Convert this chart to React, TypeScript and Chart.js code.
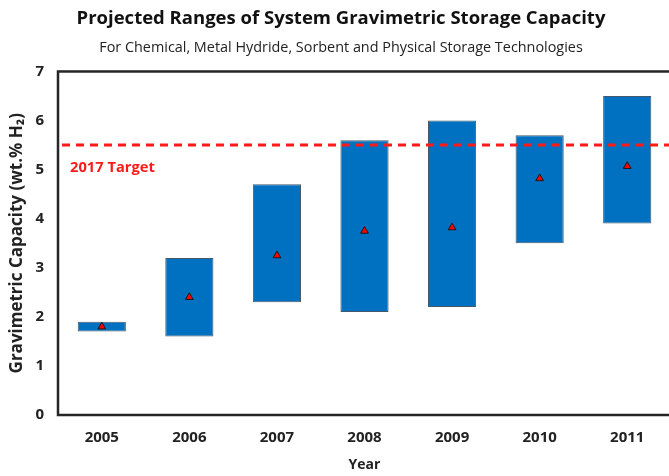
import React, { useEffect, useRef } from "react";
import { Chart, registerables } from "chart.js";

Chart.register(...registerables);

const years = ["2005", "2006", "2007", "2008", "2009", "2010", "2011"];
const rangeLow = [1.7, 1.6, 2.3, 2.1, 2.2, 3.5, 3.9];
const rangeHigh = [1.9, 3.2, 4.7, 5.6, 6.0, 5.7, 6.5];
const projectedMid = [1.8, 2.4, 3.25, 3.75, 3.82, 4.82, 5.07];
const target2017 = 5.5;
const targetLabel = "2017 Target";
const yMin = 0;
const yMax = 7;
const yStep = 1;

const titleText = "Projected Ranges of System Gravimetric Storage Capacity";
const subtitleText = "For Chemical, Metal Hydride, Sorbent and Physical Storage Technologies";
const yTitle = "Gravimetric Capacity (wt.% H\u2082)";
const xTitle = "Year";

const FONT = "'Open Sans', sans-serif";
const CW = 684;
const CH = 476;

const framePlugin = {
  id: "frameAndTarget",
  afterDatasetsDraw(chart: any) {
    const { ctx, chartArea, scales } = chart;
    const y = scales.y.getPixelForValue(target2017);
    ctx.save();
    ctx.strokeStyle = "#ff1a1a";
    ctx.lineWidth = 3;
    ctx.setLineDash([8, 6]);
    ctx.beginPath();
    ctx.moveTo(chartArea.left + 4, y);
    ctx.lineTo(chartArea.right, y);
    ctx.stroke();
    ctx.setLineDash([]);
    ctx.fillStyle = "#ff1a1a";
    ctx.font = `bold 14.7px ${FONT}`;
    ctx.textBaseline = "middle";
    ctx.textAlign = "left";
    ctx.fillText(targetLabel, chartArea.left + 12, y + 23);
    ctx.strokeStyle = "#262626";
    ctx.lineWidth = 2.5;
    ctx.strokeRect(chartArea.left, chartArea.top, chartArea.right - chartArea.left, chartArea.bottom - chartArea.top);
    ctx.restore();
  },
};

export default function App() {
  const ref = useRef<HTMLCanvasElement | null>(null);

  useEffect(() => {
    document.body.style.overflow = "hidden";
    const canvas = ref.current;
    if (!canvas) return;
    const chart = new Chart(canvas, {
      type: "bar",
      data: {
        labels: years,
        datasets: [
          {
            type: "line",
            label: "Projected",
            data: projectedMid,
            showLine: false,
            pointStyle: "triangle",
            pointRadius: 4.5,
            pointBackgroundColor: "#ff0000",
            pointBorderColor: "#1a1a1a",
            pointBorderWidth: 1,
            order: 0,
          } as any,
          {
            type: "bar",
            label: "Range",
            data: years.map((_, i) => [rangeLow[i], rangeHigh[i]]) as any,
            backgroundColor: "#0070c0",
            borderColor: "#465868",
            borderWidth: 1,
            borderSkipped: false,
            barPercentage: 0.55,
            categoryPercentage: 1,
            order: 1,
          } as any,
        ],
      },
      options: {
        responsive: false,
        animation: false,
        layout: { padding: { left: 11, right: 13, top: 0, bottom: 0 } },
        plugins: {
          legend: { display: false },
          tooltip: { enabled: false },
          title: {
            display: true,
            text: titleText,
            color: "#111",
            font: { family: FONT, size: 18.5, weight: "bold" },
            padding: { top: 8, bottom: 9 },
          },
          subtitle: {
            display: true,
            text: subtitleText,
            color: "#222",
            font: { family: FONT, size: 14.4 },
            padding: { top: 0, bottom: 15 },
          },
        },
        scales: {
          x: {
            grid: { display: false, drawTicks: false },
            border: { display: false },
            afterFit: (s: any) => {
              s.height = 61;
            },
            ticks: {
              color: "#222",
              font: { family: FONT, size: 15, weight: "bold" },
              padding: 14,
            },
            title: {
              display: true,
              text: xTitle,
              color: "#222",
              font: { family: FONT, size: 14, weight: "bold" },
              padding: { top: 4, bottom: 3 },
            },
          },
          y: {
            min: yMin,
            max: yMax,
            grid: { display: false, drawTicks: false },
            border: { display: false },
            afterFit: (s: any) => {
              s.width = 47;
            },
            ticks: {
              stepSize: yStep,
              color: "#222",
              font: { family: FONT, size: 15, weight: "bold" },
              padding: 14,
            },
            title: {
              display: true,
              text: yTitle,
              color: "#222",
              font: { family: FONT, size: 17, weight: "bold" },
              padding: { top: -4, bottom: 2 },
            },
          },
        },
      },
      plugins: [framePlugin],
    });
    return () => chart.destroy();
  }, []);

  return (
    <div style={{ position: "fixed", left: 0, top: 0, width: CW, height: CH, background: "#fff" }}>
      <canvas ref={ref} width={CW} height={CH} style={{ display: "block" }} />
    </div>
  );
}
